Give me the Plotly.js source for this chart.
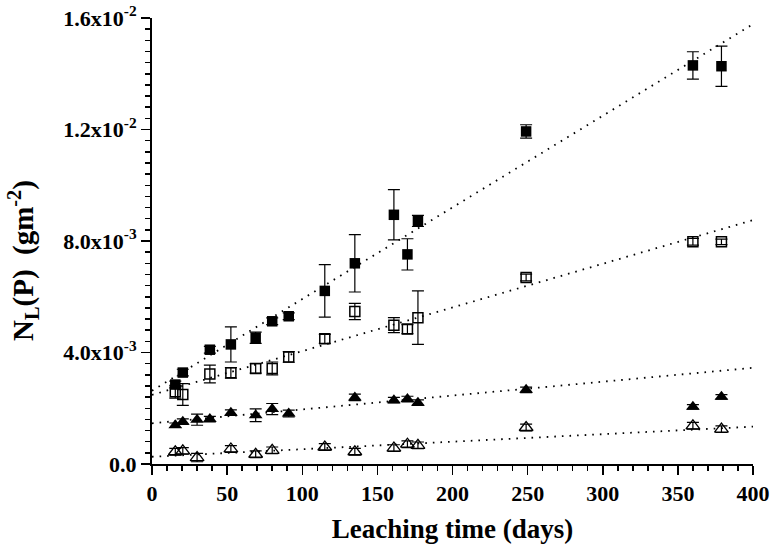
<!DOCTYPE html>
<html>
<head>
<meta charset="utf-8">
<script src="https://cdn.plot.ly/plotly-3.0.1.min.js"></script>
<style>
  html, body { margin: 0; padding: 0; background: #ffffff; }
  #chart { width: 774px; height: 544px; }
</style>
</head>
<body>
<div id="chart"></div>
<script>
// ---- data ----
const days = [15.5, 20.5, 30, 38.5, 52.5, 69, 80, 91, 115, 135, 161, 170, 177, 249, 360, 379];

const filledSquare    = [2.85e-3, 3.28e-3, null, 4.10e-3, 4.29e-3, 4.53e-3, 5.12e-3, 5.30e-3, 6.21e-3, 7.20e-3, 8.94e-3, 7.52e-3, 8.72e-3, 11.93e-3, 14.30e-3, 14.27e-3];
const filledSquareErr = [0.12e-3, 0.12e-3, null, 0.12e-3, 0.63e-3, 0.20e-3, 0.12e-3, 0.12e-3, 0.94e-3, 1.03e-3, 0.90e-3, 0.56e-3, 0.20e-3, 0.24e-3, 0.49e-3, 0.72e-3];

const openSquare    = [2.59e-3, 2.49e-3, null, 3.23e-3, 3.27e-3, 3.43e-3, 3.43e-3, 3.84e-3, 4.49e-3, 5.47e-3, 4.98e-3, 4.84e-3, 5.25e-3, 6.69e-3, 7.97e-3, 7.97e-3];
const openSquareErr = [0.23e-3, 0.39e-3, null, 0.32e-3, 0.19e-3, 0.17e-3, 0.23e-3, 0.19e-3, 0.16e-3, 0.29e-3, 0.27e-3, 0.16e-3, 0.96e-3, 0.12e-3, 0.12e-3, 0.10e-3];

const filledTriangle    = [1.39e-3, 1.52e-3, 1.59e-3, 1.61e-3, 1.84e-3, 1.75e-3, 1.97e-3, 1.81e-3, null, 2.39e-3, 2.29e-3, 2.33e-3, 2.20e-3, 2.66e-3, 2.05e-3, 2.41e-3];
const filledTriangleErr = [0.08e-3, 0.10e-3, 0.20e-3, 0.10e-3, 0.10e-3, 0.23e-3, 0.20e-3, 0.12e-3, null, 0.12e-3, 0.10e-3, 0.10e-3, 0.10e-3, 0.10e-3, 0.08e-3, 0.08e-3];

const openTriangle    = [0.44e-3, 0.47e-3, 0.23e-3, null, 0.54e-3, 0.35e-3, 0.49e-3, null, 0.61e-3, 0.44e-3, 0.57e-3, 0.71e-3, 0.67e-3, 1.31e-3, 1.37e-3, 1.25e-3];
const openTriangleErr = [0.12e-3, 0.12e-3, 0.15e-3, null, 0.12e-3, 0.12e-3, 0.12e-3, null, 0.12e-3, 0.12e-3, 0.12e-3, 0.12e-3, 0.12e-3, 0.12e-3, 0.12e-3, 0.12e-3];

// linear fits: value at day 0 and at day 400
const fitDays = [0, 400];
const fitFilledSquare   = [2.63e-3, 15.78e-3];
const fitOpenSquare     = [2.48e-3, 8.75e-3];
const fitFilledTriangle = [1.46e-3, 3.45e-3];
const fitOpenTriangle   = [0.26e-3, 1.34e-3];

const yTickVals = [0, 0.004, 0.008, 0.012, 0.016];
const yTickText = ['0.0', '4.0x10<sup>-3</sup>', '8.0x10<sup>-3</sup>', '1.2x10<sup>-2</sup>', '1.6x10<sup>-2</sup>'];
const xTickVals = [0, 50, 100, 150, 200, 250, 300, 350, 400];

// ---- traces ----
const FONT = 'Liberation Serif, Times New Roman, serif';

function fitTrace(y) {
  return {
    x: fitDays, y: y, mode: 'lines', type: 'scatter', hoverinfo: 'skip',
    line: { color: '#000000', width: 1.8, dash: '1.6px,6px' }, showlegend: false
  };
}
function pointTrace(y, err, symbol, size, lw) {
  return {
    x: days, y: y, mode: 'markers', type: 'scatter', showlegend: false,
    marker: { symbol: symbol, size: size, color: '#000000', line: { color: '#000000', width: lw } },
    error_y: { type: 'data', array: err, visible: true, color: '#000000', thickness: 1.2, width: 6 }
  };
}

const data = [
  fitTrace(fitFilledSquare),
  fitTrace(fitOpenSquare),
  fitTrace(fitFilledTriangle),
  fitTrace(fitOpenTriangle),
  pointTrace(openTriangle, openTriangleErr, 'triangle-up-open', 12, 1.3),
  pointTrace(filledTriangle, filledTriangleErr, 'triangle-up', 12, 0),
  pointTrace(openSquare, openSquareErr, 'square-open', 10, 1.5),
  pointTrace(filledSquare, filledSquareErr, 'square', 10.5, 0)
];

const layout = {
  width: 774, height: 544,
  margin: { l: 152, r: 21, t: 18, b: 80 },
  paper_bgcolor: '#ffffff', plot_bgcolor: '#ffffff',
  font: { family: FONT, color: '#000000' },
  showlegend: false,
  xaxis: {
    range: [0, 400], tickmode: 'array', tickvals: xTickVals,
    showline: true, linecolor: '#000000', linewidth: 2,
    ticks: 'outside', ticklen: 9, tickwidth: 1.5, tickcolor: '#000000',
    minor: { dtick: 10, tick0: 0, ticks: 'outside', ticklen: 5, tickwidth: 1.5, tickcolor: '#000000', showgrid: false },
    showgrid: false, zeroline: false,
    tickfont: { family: FONT, size: 22, color: '#000000', weight: 'bold' },
    title: { text: '<b>Leaching time (days)</b>', font: { family: FONT, size: 27, color: '#000000' }, standoff: 14 }
  },
  yaxis: {
    range: [0, 0.016], tickmode: 'array', tickvals: yTickVals, ticktext: yTickText,
    showline: true, linecolor: '#000000', linewidth: 2,
    ticks: 'outside', ticklen: 9, tickwidth: 1.5, tickcolor: '#000000',
    minor: { dtick: 0.0004, tick0: 0, ticks: 'outside', ticklen: 5, tickwidth: 1.5, tickcolor: '#000000', showgrid: false },
    showgrid: false, zeroline: false,
    tickfont: { family: FONT, size: 22, color: '#000000', weight: 'bold' }
  },
  annotations: [{
    text: '<b>N<sub>L</sub>(P)\u00a0\u00a0(gm<sup>-2</sup>)</b>',
    xref: 'paper', yref: 'paper', x: -0.215, y: 0.457,
    xanchor: 'center', yanchor: 'middle', textangle: -90, showarrow: false,
    font: { family: FONT, size: 29, color: '#000000' }
  }]
};

Plotly.newPlot('chart', data, layout, { displayModeBar: false, staticPlot: true });
</script>
</body>
</html>
